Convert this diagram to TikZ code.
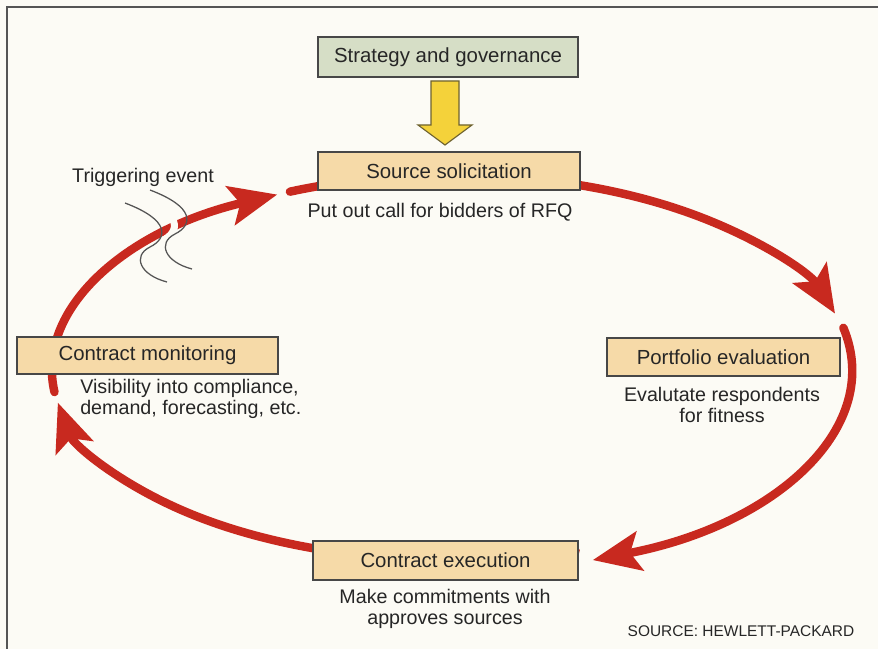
\documentclass[tikz,border=0pt]{standalone}
\usepackage{fontspec}
\setmainfont{Liberation Sans}
\usetikzlibrary{arrows.meta,calc}

\definecolor{bgpaper}{HTML}{FCFBF5}
\definecolor{boxtan}{HTML}{F6DAA8}
\definecolor{boxsage}{HTML}{D6DEC6}
\definecolor{cyclered}{HTML}{C8291F}
\definecolor{inkgray}{HTML}{262626}
\definecolor{framegray}{HTML}{555555}
\definecolor{govyellow}{HTML}{F4D23A}
\definecolor{govedge}{HTML}{6E6230}

\tikzset{
  stagebox/.style={draw=inkgray!85, line width=1pt, fill=boxtan, text=inkgray,
    font=\fontsize{14.5}{17}\selectfont, inner sep=0pt},
  note/.style={text=inkgray, font=\fontsize{14}{15.5}\selectfont, align=center, inner sep=0pt},
  cyclearc/.style={draw=cyclered, line width=6pt, line cap=round,
    -{Stealth[length=34pt,width=28pt,inset=7pt]}},
  breakline/.style={draw=framegray, line width=0.9pt}
}

\begin{document}
\begin{tikzpicture}[x=0.025cm, y=-0.025cm]
  % page and frame
  \fill[bgpaper] (0,0) rectangle (878,649);
  \useasboundingbox (0,0) rectangle (878,649);
  \draw[framegray, line width=1.1pt] (878,7) -- (7,7) -- (7,649);

  % the cycle, one arc per step
  \coordinate (ctr) at (452,370);
  \coordinate (a1) at ([shift={(113.9:10cm and 4.875cm)}]ctr);
  \coordinate (a2) at ([shift={(12:10cm and 5.075cm)}]ctr);
  \coordinate (a3) at ([shift={(-72:10cm and 4.75cm)}]ctr);
  \coordinate (a4) at ([shift={(-173.5:10cm and 4.875cm)}]ctr);
  \draw[cyclearc] (a1) arc[start angle=113.9, end angle=16.8, x radius=10cm, y radius=4.875cm];
  \draw[cyclearc] (a2) arc[start angle=12, end angle=-69.4, x radius=10cm, y radius=5.075cm];
  \draw[cyclearc] (a3) arc[start angle=-72, end angle=-170.1, x radius=10cm, y radius=4.75cm];
  \draw[cyclearc] (a4) arc[start angle=-173.5, end angle=-244.1, x radius=10cm, y radius=4.875cm];

  % triggering event break
  \draw[bgpaper, line width=5pt]
    (137.5,196.5) .. controls (182.5,213.5) and (180.5,231.5) .. (162.5,240.5)
    .. controls (144.5,253.5) and (152.5,268.5) .. (179.5,275.5);
  \draw[breakline]
    (125,203) .. controls (170,220) and (168,238) .. (150,247)
    .. controls (132,256) and (140,275) .. (167,282);
  \draw[breakline]
    (150,190) .. controls (195,207) and (193,225) .. (175,234)
    .. controls (157,243) and (165,262) .. (192,269);
  \node[note] (trig) at (143,177) {Triggering event};

  % governance input
  \node[stagebox, fill=boxsage, minimum width=6.5cm, minimum height=1cm] (strat)
    at (448,57) {Strategy and governance};
  \draw[draw=govedge, fill=govyellow, line width=0.8pt, line join=miter]
    (431,81) -- (459,81) -- (459,125) -- (472,125) -- (445,145)
    -- (418,125) -- (431,125) -- cycle;

  % stages
  \node[stagebox, minimum width=6.55cm, minimum height=0.95cm] (src)
    at (449,171) {Source solicitation};
  \node[note] (srcnote) at (440,212) {Put out call for bidders of RFQ};

  \node[stagebox, minimum width=5.825cm, minimum height=0.95cm] (port)
    at (723.5,357) {Portfolio evaluation};
  \node[note] (portnote) at (722,405) {Evalutate respondents\\for fitness};

  \node[stagebox, minimum width=6.625cm, minimum height=0.975cm] (exec)
    at (445.5,560.5) {Contract execution};
  \node[note] (execnote) at (445,609) {Make commitments with\\approves sources};

  \node[stagebox, minimum width=6.525cm, minimum height=0.925cm] (mon)
    at (147.5,355.5) {Contract monitoring};
  \node[note, anchor=west, align=left] (monnote) at (80,399)
    {Visibility into compliance,\\demand, forecasting, etc.};

  \node[note, font=\fontsize{11}{13}\selectfont] (credit) at (741,631) {SOURCE: HEWLETT-PACKARD};
\end{tikzpicture}
\end{document}
